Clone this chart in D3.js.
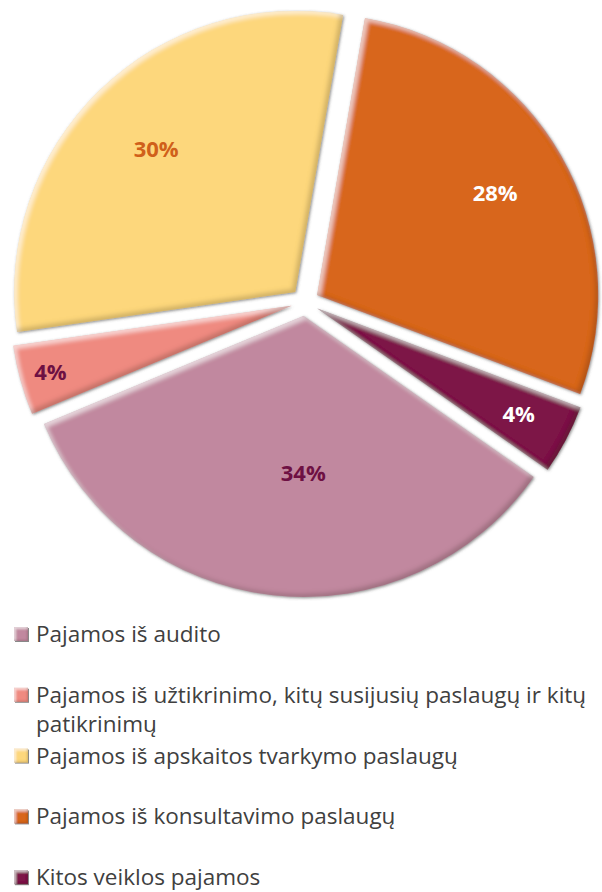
<!DOCTYPE html>
<html>
<head>
<meta charset="utf-8">
<script src="https://cdn.jsdelivr.net/npm/d3@7"></script>
<style>
  html, body { margin: 0; padding: 0; background: #ffffff; }
  svg { display: block; }
</style>
</head>
<body>
<svg id="chart" width="602" height="892"></svg>
<script>
// Revenue structure (percent of total)
const categories = [
  "Pajamos iš audito",
  "Pajamos iš užtikrinimo, kitų susijusių paslaugų ir kitų patikrinimų",
  "Pajamos iš apskaitos tvarkymo paslaugų",
  "Pajamos iš konsultavimo paslaugų",
  "Kitos veiklos pajamos"
];
const shares = [34, 4, 30, 28, 4];
const sliceColors = ["#c1889f", "#ef8a80", "#fdd77c", "#d8661b", "#7d1447"];
const labelColors = ["#6e1043", "#6e1043", "#d0601a", "#ffffff", "#ffffff"];

// Layout
const W = 602, H = 892;
const cx = 305, cy = 302, R = 281, explode = 14;
const startDeg = 125;
const labelRadius = [0.56, 0.89, 0.71, 0.73, 0.81];
const labelAngleFrac = [0.45, 0.5, 0.5, 0.5, 0.5];
const legendX = 14, legendTextX = 36, legendMaxWidth = W - 36;
const legendTop = 642, legendStep = 60.8, legendLineHeight = 29.5;
const legendFont = 22.5;

const svg = d3.select("#chart");
const defs = svg.append("defs");

// Bevel: light rim on top-left edges, dark rim on bottom-right, soft outer shadow
function bevelFilter(id, blur, shift, shadowBlur) {
  const f = defs.append("filter").attr("id", id)
    .attr("x", "-10%").attr("y", "-10%").attr("width", "120%").attr("height", "120%");
  f.append("feGaussianBlur").attr("in", "SourceAlpha").attr("stdDeviation", blur).attr("result", "b");
  f.append("feOffset").attr("in", "b").attr("dx", shift).attr("dy", shift).attr("result", "bTL");
  f.append("feComposite").attr("in", "SourceAlpha").attr("in2", "bTL").attr("operator", "out").attr("result", "rimTL");
  f.append("feFlood").attr("flood-color", "#ffffff").attr("flood-opacity", 0.55).attr("result", "white");
  f.append("feComposite").attr("in", "white").attr("in2", "rimTL").attr("operator", "in").attr("result", "hi");
  f.append("feOffset").attr("in", "b").attr("dx", -shift).attr("dy", -shift).attr("result", "bBR");
  f.append("feComposite").attr("in", "SourceAlpha").attr("in2", "bBR").attr("operator", "out").attr("result", "rimBR");
  f.append("feFlood").attr("flood-color", "#2a1a10").attr("flood-opacity", 0.35).attr("result", "dark");
  f.append("feComposite").attr("in", "dark").attr("in2", "rimBR").attr("operator", "in").attr("result", "lo");
  f.append("feGaussianBlur").attr("in", "SourceAlpha").attr("stdDeviation", shadowBlur).attr("result", "sb");
  f.append("feOffset").attr("in", "sb").attr("dx", 1).attr("dy", 1).attr("result", "so");
  f.append("feFlood").attr("flood-color", "#555555").attr("flood-opacity", 0.7).attr("result", "grey");
  f.append("feComposite").attr("in", "grey").attr("in2", "so").attr("operator", "in").attr("result", "shadow");
  const m = f.append("feMerge");
  m.append("feMergeNode").attr("in", "shadow");
  m.append("feMergeNode").attr("in", "SourceGraphic");
  m.append("feMergeNode").attr("in", "hi");
  m.append("feMergeNode").attr("in", "lo");
}
bevelFilter("bevel", 2.2, 3, 1.4);
bevelFilter("bevelSmall", 0.8, 1.5, 0.6);

// Pie
const start = startDeg * Math.PI / 180;
const pie = d3.pie().sort(null).value(d => d)
  .startAngle(start).endAngle(start + 2 * Math.PI);
const arcs = pie(shares);
const arc = d3.arc().innerRadius(0).outerRadius(R);
const pct = d3.format(".0%");

const slices = svg.append("g").attr("transform", `translate(${cx},${cy})`)
  .selectAll("g.slice").data(arcs).join("g")
  .attr("class", "slice")
  .attr("transform", d => {
    const mid = (d.startAngle + d.endAngle) / 2;
    return `translate(${Math.sin(mid) * explode},${-Math.cos(mid) * explode})`;
  });

slices.append("path")
  .attr("d", arc)
  .attr("fill", (d, i) => sliceColors[i])
  .attr("filter", "url(#bevel)");

slices.append("text")
  .attr("transform", (d, i) => {
    const a = d.startAngle + (d.endAngle - d.startAngle) * labelAngleFrac[i];
    const rr = labelRadius[i] * R;
    return `translate(${Math.sin(a) * rr},${-Math.cos(a) * rr})`;
  })
  .attr("text-anchor", "middle")
  .attr("dy", "0.35em")
  .attr("font-family", "'Open Sans', sans-serif")
  .attr("font-weight", 700)
  .attr("font-size", 22)
  .attr("fill", (d, i) => labelColors[i])
  .text(d => pct(d.data / 100));

// Legend
const legend = svg.append("g");
categories.forEach((name, i) => {
  const y = legendTop + i * legendStep;
  legend.append("rect")
    .attr("x", legendX).attr("y", y - 15)
    .attr("width", 14).attr("height", 14)
    .attr("fill", sliceColors[i])
    .attr("filter", "url(#bevelSmall)");
  const t = legend.append("text")
    .attr("x", legendTextX).attr("y", y)
    .attr("font-family", "'Open Sans', sans-serif")
    .attr("font-size", legendFont)
    .attr("fill", "#404040");
  // wrap words to the available width
  const words = name.split(" ");
  let line = [];
  let tspan = t.append("tspan").attr("x", legendTextX).attr("y", y);
  let lineNo = 0;
  words.forEach(w => {
    line.push(w);
    tspan.text(line.join(" "));
    if (tspan.node().getComputedTextLength() > legendMaxWidth && line.length > 1) {
      line.pop();
      tspan.text(line.join(" "));
      line = [w];
      lineNo++;
      tspan = t.append("tspan").attr("x", legendTextX)
        .attr("y", y + lineNo * legendLineHeight).text(w);
    }
  });
});
</script>
</body>
</html>
